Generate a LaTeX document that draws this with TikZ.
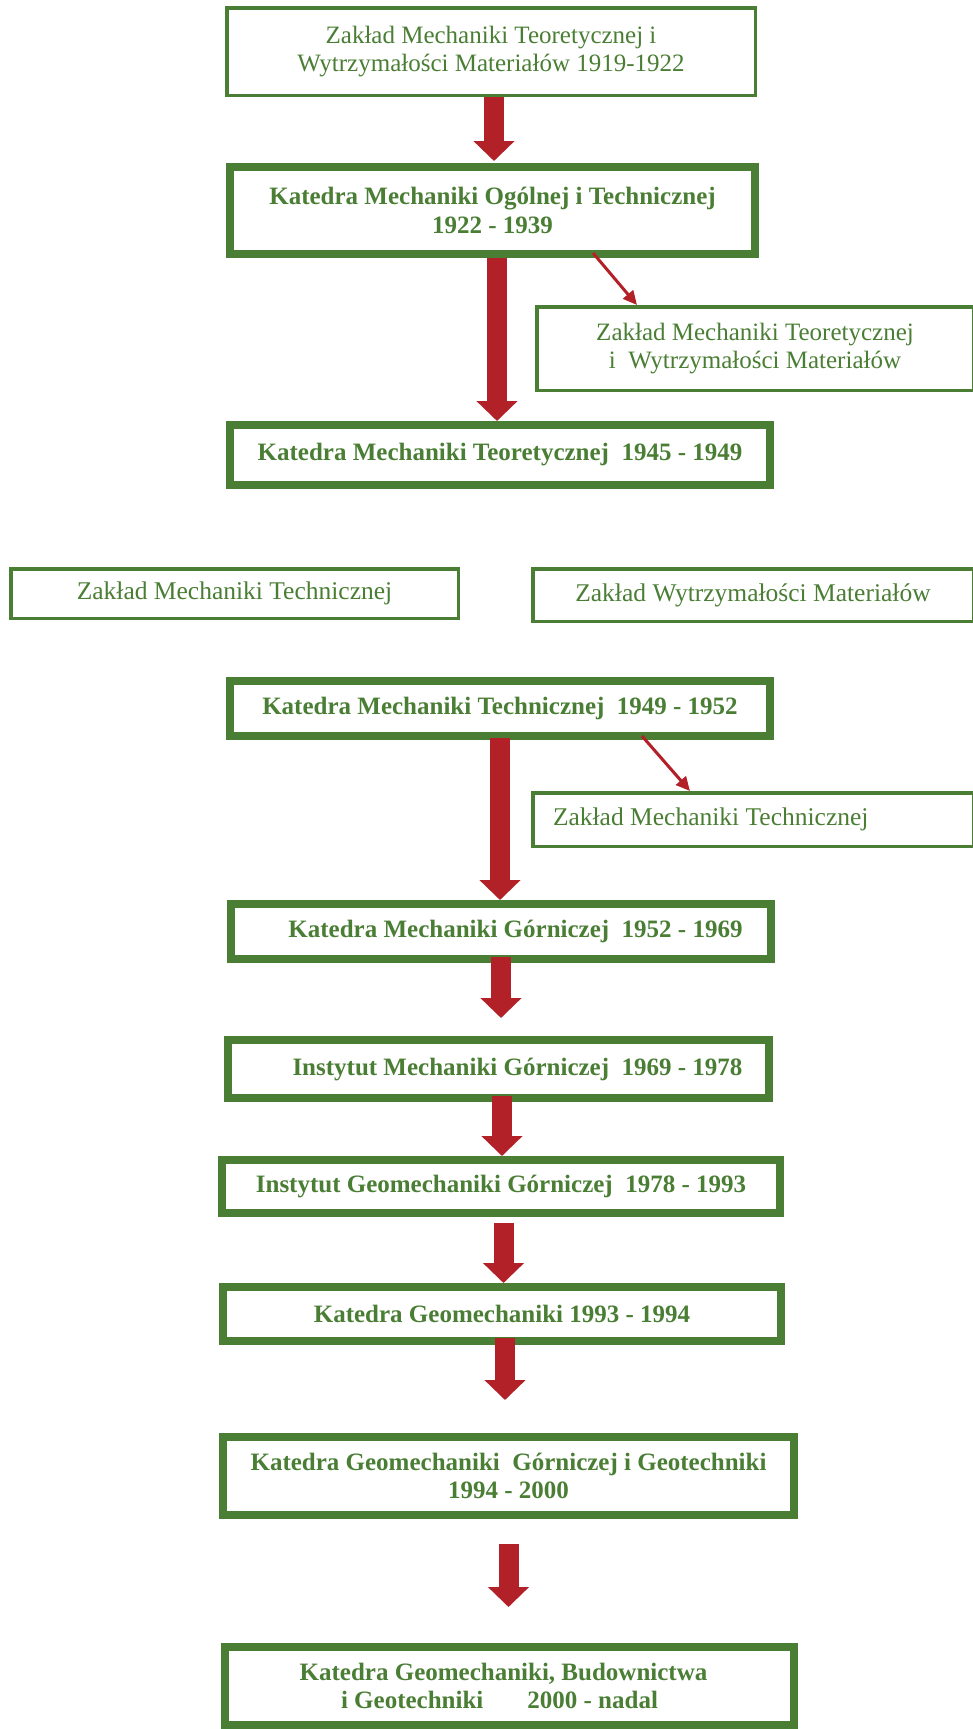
\documentclass[tikz,border=0pt]{standalone}
\usepackage{fontspec}
\setmainfont{Liberation Serif}
\usetikzlibrary{arrows.meta}
\definecolor{mygreen}{RGB}{74,126,52}
\definecolor{myred}{RGB}{178,32,40}
\newcommand\myreg{\fontsize{25}{28.5}\selectfont}
\newcommand\myregb{\fontsize{25.5}{29}\selectfont}
\newcommand\mybold{\fontsize{25}{28.5}\selectfont\bfseries}
\tikzset{
  thinbox/.style={draw=mygreen, line width=3.5pt, text=mygreen, font=\myreg, inner sep=0pt, align=center},
  thickbox/.style={draw=mygreen, line width=8pt, text=mygreen, font=\mybold, inner sep=0pt, align=center},
  bigarrow/.style={draw=myred, line width=20pt, -{Triangle[width=40pt,length=20pt]}},
  smallarrow/.style={draw=myred, line width=3pt, -{Triangle[width=13pt,length=14pt]}}
}
\begin{document}
\begin{tikzpicture}[x=1pt,y=-1pt]
\fill[white] (0,0) rectangle (972,1729);
\useasboundingbox (0,0) rectangle (972,1729);

\node[thinbox, minimum width=528.5pt, minimum height=87.5pt] (A) at (491,51.5)
  {Zakład Mechaniki Teoretycznej i\\Wytrzymałości Materiałów 1919-1922};
\node[thickbox, minimum width=525pt, minimum height=87pt] (B) at (492.5,210.5)
  {Katedra Mechaniki Ogólnej i Technicznej\\1922 - 1939};
\node[thinbox, minimum width=436.5pt, minimum height=83.5pt] (D) at (755,348.5)
  {Zakład Mechaniki Teoretycznej\\i\ \ Wytrzymałości Materiałów};
\node[thickbox, minimum width=540pt, minimum height=60pt] (C) at (500,455)
  {Katedra Mechaniki Teoretycznej\ \ 1945 - 1949};
\node[thinbox, font=\myregb, minimum width=447.5pt, minimum height=49.5pt] (E) at (234.5,593.5)
  {Zakład Mechaniki Technicznej};
\node[thinbox, font=\myregb, minimum width=440.5pt, minimum height=52.5pt] (F) at (753,595)
  {Zakład Wytrzymałości Materiałów};
\node[thickbox, minimum width=540pt, minimum height=55pt] (G) at (500,708.5)
  {Katedra Mechaniki Technicznej\ \ 1949 - 1952};
\node[thinbox, font=\myregb, minimum width=440.5pt, minimum height=53.5pt] (I) at (753,819.5)
  {\makebox[400pt][l]{Zakład Mechaniki Technicznej}};
\node[thickbox, minimum width=540pt, minimum height=55pt] (H) at (501,931.5)
  {\hspace*{29pt}Katedra Mechaniki Górniczej\ \ 1952 - 1969};
\node[thickbox, minimum width=541pt, minimum height=58pt] (J) at (498.5,1069)
  {\hspace*{38pt}Instytut Mechaniki Górniczej\ \ 1969 - 1978};
\node[thickbox, minimum width=558pt, minimum height=53pt] (K) at (501,1186.5)
  {Instytut Geomechaniki Górniczej\ \ 1978 - 1993};
\node[thickbox, minimum width=558pt, minimum height=54pt] (L) at (502,1314)
  {Katedra Geomechaniki 1993 - 1994};
\node[thickbox, minimum width=571pt, minimum height=78pt] (M) at (508.5,1476)
  {Katedra Geomechaniki\ \ Górniczej i Geotechniki\\1994 - 2000};
\node[thickbox, minimum width=569pt, minimum height=78pt] (N) at (509.5,1686)
  {Katedra Geomechaniki, Budownictwa\hspace*{12pt}\\i Geotechniki\hspace{44pt}2000 - nadal\hspace*{20pt}};

\draw[bigarrow, shorten >=2pt] ([xshift=3pt]A.south) -- ([xshift=3pt]A.south |- B.north);
\draw[bigarrow] ([xshift=4.5pt]B.south) -- ([xshift=4.5pt]B.south |- C.north);
\draw[bigarrow, shorten <=-2pt] (G.south) -- (G.south |- H.north);
\draw[bigarrow, shorten <=-6pt, shorten >=18pt] (H.south) -- (H.south |- J.north);
\draw[bigarrow, shorten <=-6pt] ([xshift=3.5pt]J.south) -- ([xshift=3.5pt]J.south |- K.north);
\draw[bigarrow, shorten <=6pt] ([xshift=2.5pt]K.south) -- ([xshift=2.5pt]K.south |- L.north);
\draw[bigarrow, shorten <=-7pt, shorten >=33pt] ([xshift=3pt]L.south) -- ([xshift=3pt]L.south |- M.north);
\draw[bigarrow, shorten <=25pt, shorten >=36pt] (M.south) -- (M.south |- N.north);

\draw[smallarrow] ([xshift=100.5pt,yshift=5pt]B.south) -- ([xshift=-118pt]D.north);
\draw[smallarrow] ([xshift=142pt,yshift=4pt]G.south) -- ([xshift=-63pt]I.north);
\end{tikzpicture}
\end{document}
